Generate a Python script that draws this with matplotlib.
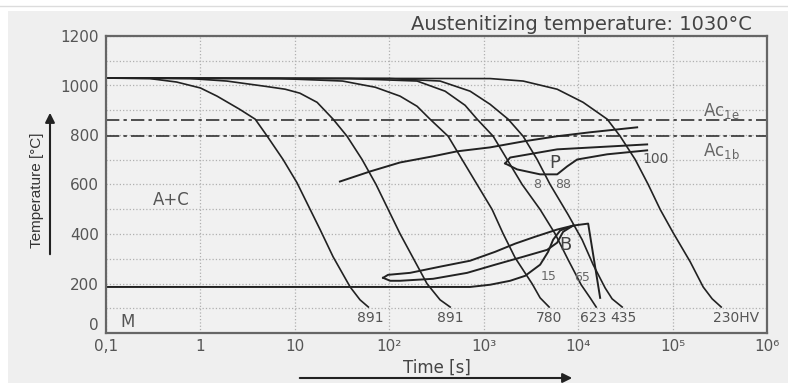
import matplotlib.pyplot as plt
from matplotlib.patches import Rectangle
from matplotlib.lines import Line2D
from matplotlib.ticker import MultipleLocator, NullLocator

# cooling curves: time [s] and temperature [C]
c1_time = [0.1, 0.29, 0.56, 1.0, 1.5, 2.6, 3.8, 5.1, 7.5, 10.5, 18.5, 25.4, 38.5, 49, 60]
c1_temp = [1030, 1028, 1014, 990, 957, 904, 864, 795, 701, 608, 418, 308, 186, 134, 105]

c2_time = [0.1, 0.78, 1.9, 4.8, 7.9, 11.3, 17.2, 25.4, 35.7, 51.5, 72.4, 130, 251, 345, 441]
c2_temp = [1030, 1028, 1018, 997, 985, 969, 932, 864, 795, 701, 600, 401, 199, 134, 105]

c3_time = [0.1, 7.0, 32, 71, 130, 197, 270, 420, 590, 851, 1228, 1607, 2151, 3256, 3957, 4927]
c3_temp = [1030, 1028, 1018, 993, 957, 916, 864, 795, 701, 600, 499, 401, 304, 199, 142, 105]

c4_time = [0.1, 38, 197, 390, 635, 851, 1259, 1771, 2553, 3957, 5702, 7834, 10760, 13400, 15520]
c4_temp = [1030, 1028, 1018, 977, 920, 864, 795, 701, 600, 499, 401, 296, 195, 142, 105]

c5_time = [0.1, 102, 345, 718, 1169, 1813, 2614, 3680, 5049, 7834, 11020, 14420, 19320, 22900, 29250]
c5_temp = [1030, 1028, 1018, 977, 924, 864, 795, 701, 600, 478, 377, 276, 182, 138, 105]

c6_time = [0.1, 1169, 2614, 5996, 11290, 17100, 20300, 27860, 40180, 55200, 73970,
           101400, 153600, 210900, 262700, 327200]
c6_temp = [1030, 1028, 1018, 985, 932, 884, 864, 795, 701, 600, 499, 405, 288, 186, 138, 105]

cooling = [(c1_time, c1_temp), (c2_time, c2_temp), (c3_time, c3_temp),
           (c4_time, c4_temp), (c5_time, c5_temp), (c6_time, c6_temp)]

# hardness labels at the curve ends
hv_labels = ['891', '891', '780', '623', '435', '230HV']
hv_time = [62.6, 441, 4927, 14420, 30000, 465600]
hv_temp = 61

# pearlite lines
ps_time = [30, 63, 130, 291, 522, 1169, 2614, 5996, 13400, 42170]
ps_temp = [612, 653, 689, 714, 734, 750, 774, 795, 811, 831]
p_up_time = [1687, 1905, 5996, 53800]
p_up_temp = [685, 709, 742, 762]
p_low_time = [1687, 2259, 3957, 5996, 7640, 9754, 20300, 53800]
p_low_temp = [685, 661, 641, 641, 673, 701, 722, 738]

# bainite region + Ms
ms_time = [0.1, 718, 1169, 1905, 2746, 3957, 4810, 5435, 6445, 8850]
ms_temp = [186, 186, 195, 211, 231, 276, 328, 377, 414, 434]
bs_time = [86, 97, 166, 345, 718, 1321, 2151, 3505, 5996, 8850, 12770, 17100]
bs_temp = [223, 235, 243, 268, 292, 328, 361, 389, 418, 434, 442, 142]
bm_time = [86, 102, 130, 291, 667, 1321, 2614, 4695, 5996, 6935, 8850]
bm_temp = [223, 211, 211, 219, 243, 276, 308, 336, 365, 409, 434]

ac1e = 860
ac1b = 795

x_ticks = [0.1, 1, 10, 100, 1e3, 1e4, 1e5, 1e6]
x_tick_labels = ['0,1', '1', '10', '10²', '10³', '10⁴', '10⁵', '10⁶']
y_ticks = [0, 200, 400, 600, 800, 1000, 1200]

W, H = 788, 383
fig = plt.figure(figsize=(W / 100, H / 100), dpi=100, facecolor='#efefef')
# screenshot border
fig.add_artist(Rectangle((0, 1 - 11 / H), 1, 11 / H, transform=fig.transFigure,
                         facecolor='white', edgecolor='none'))
fig.add_artist(Rectangle((0, 0), 8 / W, 1, transform=fig.transFigure,
                         facecolor='white', edgecolor='none'))
fig.add_artist(Line2D([0, 1], [1 - 6 / H] * 2, transform=fig.transFigure,
                      color='#dcdcdc', lw=1))

ax = fig.add_axes([106 / W, 1 - 333 / H, 661 / W, 297 / H])
ax.set_facecolor('#f1f1f1')
ax.set_xscale('log')
ax.set_xlim(0.1, 1e6)
ax.set_ylim(0, 1200)

ax.set_xticks(x_ticks, x_tick_labels)
ax.xaxis.set_minor_locator(NullLocator())
ax.set_yticks(y_ticks)
ax.yaxis.set_minor_locator(MultipleLocator(100))
ax.tick_params(which='both', length=0, labelsize=11, labelcolor='#555')
ax.tick_params(axis='y', pad=5)
ax.tick_params(axis='x', pad=4)
# the "0" sits just above "0,1" in the corner
ax.get_yticklabels()[0].set_verticalalignment('bottom')
ax.grid(True, which='both', linestyle=':', color='#b0b0b0', lw=0.9)
for s in ax.spines.values():
    s.set_color('#666')
    s.set_linewidth(1.6)

ax.axhline(ac1e, color='#333', lw=1.2, ls=(0, (8, 2.5, 2, 2.5)))
ax.axhline(ac1b, color='#333', lw=1.2, ls=(0, (8, 2.5, 2, 2.5)))

for t, T in cooling:
    ax.plot(t, T, color='#222', lw=1.2)

for t, T in [(ps_time, ps_temp), (p_up_time, p_up_temp), (p_low_time, p_low_temp),
             (ms_time, ms_temp), (bs_time, bs_temp), (bm_time, bm_temp)]:
    ax.plot(t, T, color='#222', lw=1.4)

for lab, t in zip(hv_labels, hv_time):
    ax.text(t, hv_temp, lab, ha='center', va='center', fontsize=10, color='#555')

ax.text(0.49, 539, 'A+C', ha='center', va='center', fontsize=12, color='#555')
ax.text(0.171, 45, 'M', ha='center', va='center', fontsize=12, color='#555')
ax.text(5702, 685, 'P', ha='center', va='center', fontsize=13, color='#444')
ax.text(7280, 357, 'B', ha='center', va='center', fontsize=13, color='#444')
ax.text(3680, 600, '8', ha='center', va='center', fontsize=9, color='#666')
ax.text(6935, 600, '88', ha='center', va='center', fontsize=9, color='#666')
ax.text(65460, 705, '100', ha='center', va='center', fontsize=10, color='#555')
ax.text(4810, 227, '15', ha='center', va='center', fontsize=9, color='#666')
ax.text(11020, 223, '65', ha='center', va='center', fontsize=9, color='#666')
ax.text(210900, 876, r'Ac$_{\mathrm{1e}}$', ha='left', va='baseline', fontsize=12, color='#666')
ax.text(210900, 714, r'Ac$_{\mathrm{1b}}$', ha='left', va='baseline', fontsize=12, color='#666')

fig.text(581.5 / W, 1 - 25 / H, 'Austenitizing temperature: 1030°C',
         ha='center', va='center', fontsize=14, color='#444')
fig.text(37 / W, 1 - 190 / H, 'Temperature [°C]', rotation=90, ha='center', va='center',
         fontsize=11, family='Liberation Sans', color='#333')
fig.text(437 / W, 1 - 368 / H, 'Time [s]', ha='center', va='center', fontsize=12, color='#444')

ax.annotate('', xy=(50 / W, 1 - 110 / H), xytext=(50 / W, 1 - 257 / H),
            xycoords='figure fraction', textcoords='figure fraction',
            arrowprops=dict(arrowstyle='-|>', color='#222', lw=1.5, mutation_scale=14))
ax.annotate('', xy=(575 / W, 1 - 378 / H), xytext=(297 / W, 1 - 378 / H),
            xycoords='figure fraction', textcoords='figure fraction',
            arrowprops=dict(arrowstyle='-|>', color='#222', lw=1.5, mutation_scale=14))

fig.savefig('out.png', dpi=100, facecolor=fig.get_facecolor())
